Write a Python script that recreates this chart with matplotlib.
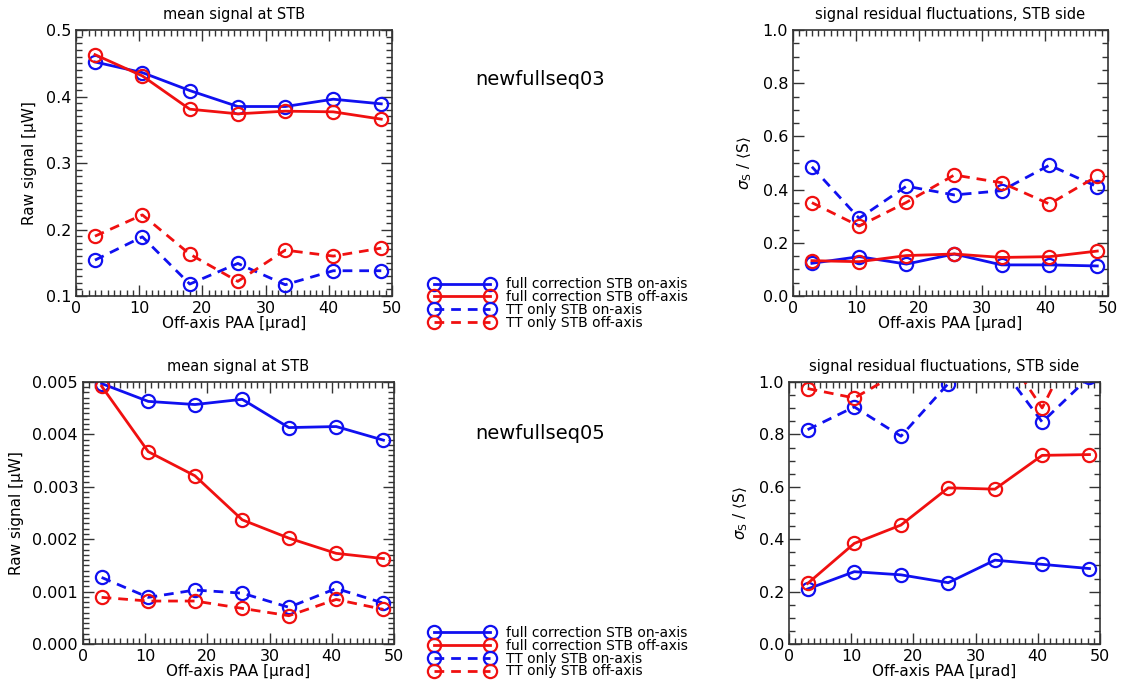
import matplotlib
matplotlib.use("Agg")
import matplotlib.pyplot as plt
from matplotlib.ticker import MultipleLocator

x = [3.0, 10.5, 18.0, 25.6, 33.1, 40.7, 48.3]

labels = ["full correction STB on-axis", "full correction STB off-axis",
          "TT only STB on-axis", "TT only STB off-axis"]

# newfullseq03
s03_mean_full_on = [0.452, 0.436, 0.409, 0.385, 0.385, 0.396, 0.389]
s03_mean_full_off = [0.463, 0.431, 0.381, 0.374, 0.378, 0.377, 0.366]
s03_mean_tt_on = [0.154, 0.189, 0.118, 0.149, 0.117, 0.138, 0.138]
s03_mean_tt_off = [0.190, 0.222, 0.163, 0.122, 0.169, 0.160, 0.172]

s03_sig_full_on = [0.123, 0.148, 0.120, 0.158, 0.117, 0.117, 0.113]
s03_sig_full_off = [0.133, 0.129, 0.152, 0.158, 0.145, 0.148, 0.169]
s03_sig_tt_on = [0.486, 0.292, 0.413, 0.380, 0.396, 0.492, 0.411]
s03_sig_tt_off = [0.351, 0.263, 0.352, 0.455, 0.426, 0.346, 0.451]

# newfullseq05
s05_mean_full_on = [0.00497, 0.00463, 0.00457, 0.00467, 0.00413, 0.00415, 0.00389]
s05_mean_full_off = [0.00492, 0.00367, 0.00321, 0.00237, 0.00202, 0.00173, 0.00163]
s05_mean_tt_on = [0.00127, 0.00089, 0.00103, 0.00097, 0.00070, 0.00106, 0.00078]
s05_mean_tt_off = [0.00089, 0.00082, 0.00082, 0.00068, 0.00054, 0.00085, 0.00066]

s05_sig_full_on = [0.210, 0.276, 0.264, 0.234, 0.320, 0.304, 0.288]
s05_sig_full_off = [0.231, 0.384, 0.454, 0.596, 0.591, 0.720, 0.723]
s05_sig_tt_on = [0.818, 0.905, 0.793, 0.994, 1.09, 0.847, 1.02]
s05_sig_tt_off = [0.975, 0.939, 1.04, 1.15, 1.17, 0.901, 1.26]

plt.rcParams['font.family'] = ['DejaVu Sans']

fig = plt.figure(figsize=(11.21, 6.83), dpi=100)

styles = [("#1010f0", "-"), ("#f01010", "-"), ("#1010f0", (0, (3.5, 2.5))), ("#f01010", (0, (3.5, 2.5)))]


def make_axes(rect, series, ylim, ymaj, ymin_, title, ylabel, yfmt):
    ax = fig.add_axes(rect)
    handles = []
    for (c, ls), ys, lab in zip(styles, series, labels):
        h, = ax.plot(x, ys, color=c, linestyle=ls, lw=2.0, marker='o',
                     markersize=9.5, markerfacecolor='none', markeredgewidth=1.6,
                     label=lab)
        handles.append(h)
    ax.set_xlim(0, 50)
    ax.set_ylim(*ylim)
    ax.xaxis.set_major_locator(MultipleLocator(10))
    ax.xaxis.set_minor_locator(MultipleLocator(1))
    ax.yaxis.set_major_locator(MultipleLocator(ymaj))
    ax.yaxis.set_minor_locator(MultipleLocator(ymin_))
    ax.yaxis.set_major_formatter(yfmt)
    ax.tick_params(which='both', direction='in', top=True, right=True,
                   colors='#333333', labelcolor='black', labelsize=11.5)
    ax.tick_params(which='major', length=8, width=1)
    ax.tick_params(which='minor', length=4, width=1)
    for sp in ax.spines.values():
        sp.set_color('#333333')
        sp.set_linewidth(1.2)
    ax.set_title(title, fontsize=10.5, pad=8)
    ax.set_xlabel("Off-axis PAA [μrad]", fontsize=11, labelpad=0)
    ax.set_ylabel(ylabel, fontsize=11, labelpad=6)
    return ax, handles


f1 = lambda v, p: f"{v:.1f}"
f3 = lambda v, p: f"{v:.3f}"

ax1, hs = make_axes([0.0678, 0.5666, 0.2819, 0.3894],
                    [s03_mean_full_on, s03_mean_full_off, s03_mean_tt_on, s03_mean_tt_off],
                    (0.1, 0.5), 0.1, 0.01, "mean signal at STB", "Raw signal [μW]", f1)
ax2, _ = make_axes([0.7074, 0.5666, 0.2810, 0.3894],
                   [s03_sig_full_on, s03_sig_full_off, s03_sig_tt_on, s03_sig_tt_off],
                   (0.0, 1.0), 0.2, 0.05, "signal residual fluctuations, STB side",
                   r"$\sigma_{\rm S}$ / $\langle$S$\rangle$", f1)
ax3, _ = make_axes([0.0740, 0.0571, 0.2775, 0.3836],
                   [s05_mean_full_on, s05_mean_full_off, s05_mean_tt_on, s05_mean_tt_off],
                   (0.0, 0.005), 0.001, 0.0001, "mean signal at STB", "Raw signal [μW]", f3)
ax4, _ = make_axes([0.7038, 0.0571, 0.2775, 0.3836],
                   [s05_sig_full_on, s05_sig_full_off, s05_sig_tt_on, s05_sig_tt_off],
                   (0.0, 1.0), 0.2, 0.05, "signal residual fluctuations, STB side",
                   r"$\sigma_{\rm S}$ / $\langle$S$\rangle$", f1)

fig.text(0.482, 0.883, "newfullseq03", ha='center', va='center', fontsize=14)
fig.text(0.482, 0.366, "newfullseq05", ha='center', va='center', fontsize=14)

for ytop in (0.608, 0.098):
    fig.legend(hs, labels, loc='upper left', bbox_to_anchor=(0.375, ytop),
               frameon=False, numpoints=2, handlelength=4.6, fontsize=10,
               labelspacing=-0.08, handletextpad=0.9, borderpad=0.2)

fig.savefig("out.png", dpi=100)
